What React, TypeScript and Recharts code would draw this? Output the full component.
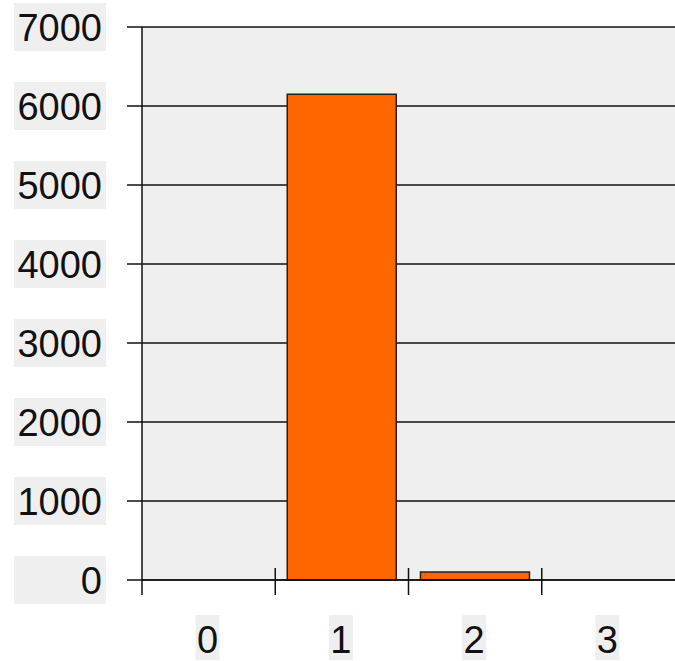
import { Bar, BarChart, CartesianGrid, XAxis, YAxis } from "recharts"

const categories = ["0", "1", "2", "3"]
const counts = [0, 6150, 100, 0]
const yTicks = [0, 1000, 2000, 3000, 4000, 5000, 6000, 7000]

const data = categories.map((name, i) => ({ name, count: counts[i] }))

const W = 675
const H = 661
const LEFT = 142
const FONT = "'Liberation Sans', Arial, sans-serif"

function YTick(props: any) {
  const { x, y, payload } = props
  return (
    <g>
      <rect x={x - 88} y={y - 24} width={92} height={48} fill="#efefef" />
      <text x={x} y={y + 13.5} textAnchor="end" fontSize={38} fontFamily={FONT} fill="#111">
        {payload.value}
      </text>
    </g>
  )
}

function XTick(props: any) {
  const { x, y, payload, index } = props
  const half = (W - LEFT) / categories.length / 2
  const bx = x - half
  return (
    <g>
      <line x1={bx} x2={bx} y1={index === 0 ? y : y - 12} y2={y + 15} stroke="#111" strokeWidth={1.5} />
      <rect x={x - 13} y={y + 35} width={24} height={45} fill="#efefef" />
      <text x={x - 1} y={y + 73} textAnchor="middle" fontSize={38} fontFamily={FONT} fill="#111">
        {payload.value}
      </text>
    </g>
  )
}

export default function App() {
  return (
    <div style={{ position: "absolute", left: 0, top: 0, background: "#fff" }}>
      <BarChart
        width={W}
        height={H}
        data={data}
        margin={{ top: 27, right: 0, bottom: 0, left: 0 }}
        barCategoryGap="9%"
      >
        <CartesianGrid vertical={false} fill="#efefef" stroke="#111" strokeWidth={1.5} />
        <XAxis
          dataKey="name"
          height={81}
          axisLine={{ stroke: "#111", strokeWidth: 1.5 }}
          tickLine={false}
          tickSize={0}
          tickMargin={0}
          tick={<XTick />}
          interval={0}
        />
        <YAxis
          width={LEFT}
          domain={[0, 7000]}
          ticks={yTicks}
          interval={0}
          axisLine={{ stroke: "#111", strokeWidth: 1.5 }}
          tickLine={{ stroke: "#111", strokeWidth: 1.5 }}
          tickSize={15}
          tickMargin={25}
          tick={<YTick />}
        />
        <Bar dataKey="count" fill="#ff6600" stroke="#222" strokeWidth={1.5} isAnimationActive={false} />
      </BarChart>
    </div>
  )
}
